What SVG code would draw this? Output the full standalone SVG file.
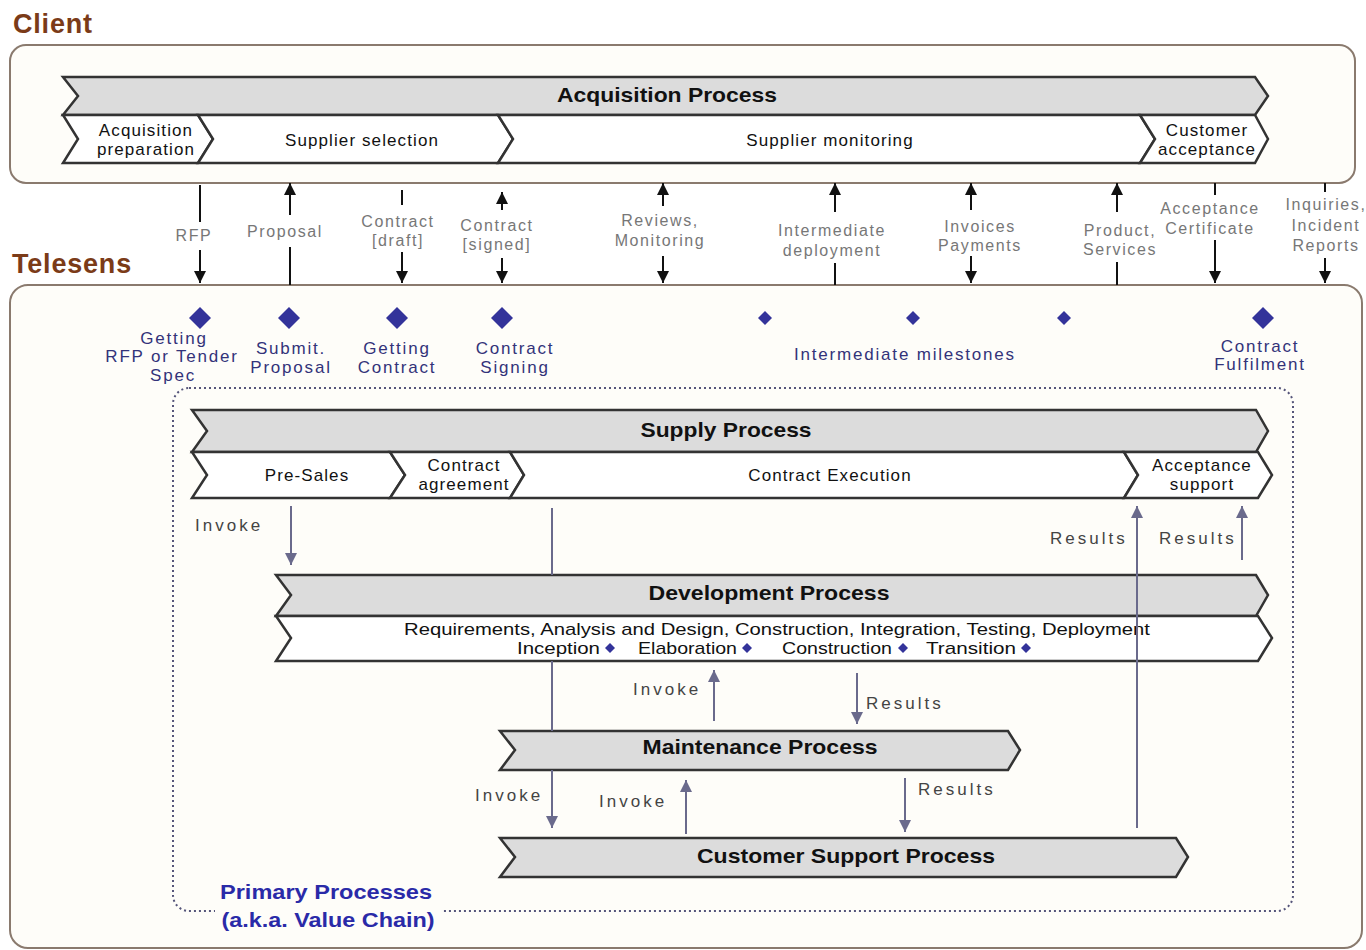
<svg xmlns="http://www.w3.org/2000/svg" width="1366" height="950" viewBox="0 0 1366 950">
<defs>
<style>
.band{fill:#dcdcdc;stroke:#333;stroke-width:2.5;stroke-linejoin:miter}
.seg{fill:#fff;stroke:#333;stroke-width:2.5;stroke-linejoin:miter}
.title{font-family:"Liberation Sans",Arial,sans-serif;font-weight:bold;font-size:21px;fill:#111;text-anchor:middle}
.row{font-family:"Liberation Sans",Arial,sans-serif;font-size:17px;fill:#111;text-anchor:middle;letter-spacing:1.1px}
.lbl{font-family:"Liberation Sans",Arial,sans-serif;font-size:16px;fill:#777;text-anchor:middle;letter-spacing:1.6px}
.ms{font-family:"Liberation Sans",Arial,sans-serif;font-size:17px;fill:#33337a;text-anchor:middle;letter-spacing:1.8px}
.inner{font-family:"Liberation Sans",Arial,sans-serif;font-size:17px;fill:#444;letter-spacing:3px}
.hdr{font-family:"Liberation Sans",Arial,sans-serif;font-weight:bold;font-size:27px;fill:#7b3b18;letter-spacing:0.8px}
.blk{stroke:#111;stroke-width:2;fill:none}
.blu{stroke:#6a6a8c;stroke-width:2;fill:none}
.dia{fill:#33339a}
.pp{font-family:"Liberation Sans",Arial,sans-serif;font-weight:bold;font-size:21px;fill:#2a2aa8;text-anchor:middle}
</style>
<marker id="ab" viewBox="0 0 10 10" refX="10" refY="5" markerWidth="6" markerHeight="8" markerUnits="strokeWidth" orient="auto"><path d="M0,0 L10,5 L0,10 z" fill="#111"/></marker>
<marker id="au" viewBox="0 0 10 10" refX="10" refY="5" markerWidth="6" markerHeight="8" markerUnits="strokeWidth" orient="auto"><path d="M0,0 L10,5 L0,10 z" fill="#6a6a8c"/></marker>
</defs>
<rect width="1366" height="950" fill="#fff"/>

<g id="client">
<text class="hdr" x="13" y="33">Client</text>
<rect x="10" y="45" width="1345" height="138" rx="16" fill="#fefdf9" stroke="#8a7a6e" stroke-width="2"/>
</g>

<g id="telesens">
<text class="hdr" x="12" y="273">Telesens</text>
<rect x="10" y="285" width="1352" height="663" rx="18" fill="#fefdf9" stroke="#8a7a6e" stroke-width="2"/>
</g>

<g id="acquisition">
<polygon class="band" points="63,77 1255,77 1268,96 1255,115 63,115 78,96"/>
<text class="title" x="667" y="102" textLength="220" lengthAdjust="spacingAndGlyphs">Acquisition Process</text>
<polygon class="seg" points="63,115 198,115 213,139 198,163 63,163 78,139"/>
<polygon class="seg" points="198,115 498,115 513,139 498,163 198,163 213,139"/>
<polygon class="seg" points="498,115 1140,115 1155,139 1140,163 498,163 513,139"/>
<polygon class="seg" points="1140,115 1255,115 1268,139 1255,163 1140,163 1155,139"/>
<text class="row" x="146" y="136">Acquisition</text>
<text class="row" x="146" y="155">preparation</text>
<text class="row" x="362" y="146">Supplier selection</text>
<text class="row" x="830" y="146">Supplier monitoring</text>
<text class="row" x="1207" y="136">Customer</text>
<text class="row" x="1207" y="155">acceptance</text>
</g>

<g id="exchange-connectors">
<line class="blk" x1="200" y1="185" x2="200" y2="222"/>
<line class="blk" x1="200" y1="250" x2="200" y2="283" marker-end="url(#ab)"/>
<text class="lbl" x="194" y="241">RFP</text>

<line class="blk" x1="290" y1="215" x2="290" y2="183" marker-end="url(#ab)"/>
<line class="blk" x1="290" y1="247" x2="290" y2="285"/>
<text class="lbl" x="285" y="237">Proposal</text>

<line class="blk" x1="402" y1="190" x2="402" y2="205"/>
<line class="blk" x1="402" y1="252" x2="402" y2="283" marker-end="url(#ab)"/>
<text class="lbl" x="398" y="227">Contract</text>
<text class="lbl" x="398" y="246">[draft]</text>

<line class="blk" x1="502" y1="210" x2="502" y2="192" marker-end="url(#ab)"/>
<line class="blk" x1="502" y1="258" x2="502" y2="283" marker-end="url(#ab)"/>
<text class="lbl" x="497" y="231">Contract</text>
<text class="lbl" x="497" y="250">[signed]</text>

<line class="blk" x1="663" y1="206" x2="663" y2="183" marker-end="url(#ab)"/>
<line class="blk" x1="663" y1="256" x2="663" y2="283" marker-end="url(#ab)"/>
<text class="lbl" x="660" y="226">Reviews,</text>
<text class="lbl" x="660" y="246">Monitoring</text>

<line class="blk" x1="835" y1="212" x2="835" y2="183" marker-end="url(#ab)"/>
<line class="blk" x1="835" y1="263" x2="835" y2="285"/>
<text class="lbl" x="832" y="236">Intermediate</text>
<text class="lbl" x="832" y="256">deployment</text>

<line class="blk" x1="971" y1="210" x2="971" y2="183" marker-end="url(#ab)"/>
<line class="blk" x1="971" y1="256" x2="971" y2="283" marker-end="url(#ab)"/>
<text class="lbl" x="980" y="232">Invoices</text>
<text class="lbl" x="980" y="251">Payments</text>

<line class="blk" x1="1117" y1="212" x2="1117" y2="183" marker-end="url(#ab)"/>
<line class="blk" x1="1117" y1="262" x2="1117" y2="285"/>
<text class="lbl" x="1120" y="236">Product,</text>
<text class="lbl" x="1120" y="255">Services</text>

<line class="blk" x1="1215" y1="183" x2="1215" y2="195"/>
<line class="blk" x1="1215" y1="240" x2="1215" y2="283" marker-end="url(#ab)"/>
<text class="lbl" x="1210" y="214">Acceptance</text>
<text class="lbl" x="1210" y="234">Certificate</text>

<line class="blk" x1="1325" y1="183" x2="1325" y2="192"/>
<line class="blk" x1="1325" y1="258" x2="1325" y2="283" marker-end="url(#ab)"/>
<text class="lbl" x="1326" y="210">Inquiries,</text>
<text class="lbl" x="1326" y="231">Incident</text>
<text class="lbl" x="1326" y="251">Reports</text>
</g>

<g id="milestones">
<polygon class="dia" points="200,307 211,318 200,329 189,318"/>
<polygon class="dia" points="289,307 300,318 289,329 278,318"/>
<polygon class="dia" points="397,307 408,318 397,329 386,318"/>
<polygon class="dia" points="502,307 513,318 502,329 491,318"/>
<polygon class="dia" points="765,311 772,318 765,325 758,318"/>
<polygon class="dia" points="913,311 920,318 913,325 906,318"/>
<polygon class="dia" points="1064,311 1071,318 1064,325 1057,318"/>
<polygon class="dia" points="1263,307 1274,318 1263,329 1252,318"/>
<text class="ms" x="174" y="344">Getting</text>
<text class="ms" x="172" y="362">RFP or Tender</text>
<text class="ms" x="173" y="381">Spec</text>
<text class="ms" x="291" y="354">Submit.</text>
<text class="ms" x="291" y="373">Proposal</text>
<text class="ms" x="397" y="354">Getting</text>
<text class="ms" x="397" y="373">Contract</text>
<text class="ms" x="515" y="354">Contract</text>
<text class="ms" x="515" y="373">Signing</text>
<text class="ms" x="905" y="360">Intermediate milestones</text>
<text class="ms" x="1260" y="352">Contract</text>
<text class="ms" x="1260" y="370">Fulfilment</text>
</g>

<g id="primary-processes">
<rect x="173" y="388" width="1120" height="523" rx="16" fill="none" stroke="#55557a" stroke-width="2" stroke-dasharray="2,3"/>
<rect x="215" y="880" width="228" height="50" fill="#fefdf9"/>
<text class="pp" x="326" y="899" textLength="212" lengthAdjust="spacingAndGlyphs">Primary Processes</text>
<text class="pp" x="328" y="927" textLength="213" lengthAdjust="spacingAndGlyphs">(a.k.a. Value Chain)</text>
</g>

<g id="supply">
<polygon class="band" points="192,410 1256,410 1268,431 1256,452 192,452 207,431"/>
<text class="title" x="726" y="437" textLength="171" lengthAdjust="spacingAndGlyphs">Supply Process</text>
<polygon class="seg" points="192,452 390,452 405,475 390,498 192,498 207,475"/>
<polygon class="seg" points="390,452 510,452 524,475 510,498 390,498 405,475"/>
<polygon class="seg" points="510,452 1124,452 1138,475 1124,498 510,498 524,475"/>
<polygon class="seg" points="1124,452 1258,452 1272,475 1258,498 1124,498 1138,475"/>
<text class="row" x="307" y="481">Pre-Sales</text>
<text class="row" x="464" y="471">Contract</text>
<text class="row" x="464" y="490">agreement</text>
<text class="row" x="830" y="481">Contract Execution</text>
<text class="row" x="1202" y="471">Acceptance</text>
<text class="row" x="1202" y="490">support</text>
</g>

<g id="development">
<polygon class="band" points="276,575 1256,575 1268,595 1256,616 276,616 291,595"/>
<text class="title" x="769" y="600" textLength="241" lengthAdjust="spacingAndGlyphs">Development Process</text>
<polygon class="seg" points="276,616 1258,616 1272,638 1258,661 276,661 291,638"/>
<text x="777" y="635" font-family="'Liberation Sans',Arial,sans-serif" font-size="17" fill="#111" text-anchor="middle" textLength="746" lengthAdjust="spacingAndGlyphs">Requirements, Analysis and Design, Construction,  Integration, Testing, Deployment</text>
<text x="517" y="654" font-family="'Liberation Sans',Arial,sans-serif" font-size="17" fill="#111" textLength="83" lengthAdjust="spacingAndGlyphs">Inception</text>
<polygon class="dia" points="610,643 615,648 610,653 605,648"/>
<text x="638" y="654" font-family="'Liberation Sans',Arial,sans-serif" font-size="17" fill="#111" textLength="99" lengthAdjust="spacingAndGlyphs">Elaboration</text>
<polygon class="dia" points="747,643 752,648 747,653 742,648"/>
<text x="782" y="654" font-family="'Liberation Sans',Arial,sans-serif" font-size="17" fill="#111" textLength="110" lengthAdjust="spacingAndGlyphs">Construction</text>
<polygon class="dia" points="903,643 908,648 903,653 898,648"/>
<text x="926" y="654" font-family="'Liberation Sans',Arial,sans-serif" font-size="17" fill="#111" textLength="90" lengthAdjust="spacingAndGlyphs">Transition</text>
<polygon class="dia" points="1026,643 1031,648 1026,653 1021,648"/>
</g>

<g id="maintenance">
<polygon class="band" points="500,731 1008,731 1020,750 1008,770 500,770 515,750"/>
<text class="title" x="760" y="754" textLength="235" lengthAdjust="spacingAndGlyphs">Maintenance Process</text>
</g>

<g id="customer-support">
<polygon class="band" points="500,838 1176,838 1188,857 1176,877 500,877 515,857"/>
<text class="title" x="846" y="863" textLength="298" lengthAdjust="spacingAndGlyphs">Customer Support Process</text>
</g>

<g id="process-connectors">
<line class="blu" x1="291" y1="506" x2="291" y2="565" marker-end="url(#au)"/>
<text class="inner" x="195" y="531">Invoke</text>
<line class="blu" x1="552" y1="508" x2="552" y2="575"/>
<line class="blu" x1="552" y1="661" x2="552" y2="731"/>
<line class="blu" x1="552" y1="770" x2="552" y2="828" marker-end="url(#au)"/>
<text class="inner" x="475" y="801">Invoke</text>
<line class="blu" x1="714" y1="721" x2="714" y2="670" marker-end="url(#au)"/>
<text class="inner" x="633" y="695">Invoke</text>
<line class="blu" x1="857" y1="673" x2="857" y2="724" marker-end="url(#au)"/>
<text class="inner" x="866" y="709">Results</text>
<line class="blu" x1="686" y1="834" x2="686" y2="780" marker-end="url(#au)"/>
<text class="inner" x="599" y="807">Invoke</text>
<line class="blu" x1="905" y1="778" x2="905" y2="832" marker-end="url(#au)"/>
<text class="inner" x="918" y="795">Results</text>
<line class="blu" x1="1137" y1="828" x2="1137" y2="506" marker-end="url(#au)"/>
<text class="inner" x="1050" y="544">Results</text>
<line class="blu" x1="1242" y1="560" x2="1242" y2="506" marker-end="url(#au)"/>
<text class="inner" x="1159" y="544">Results</text>
</g>
</svg>
